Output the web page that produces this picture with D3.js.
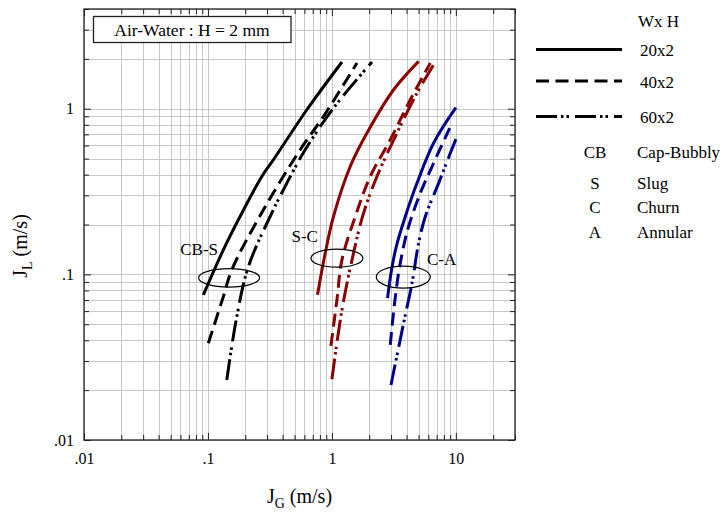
<!DOCTYPE html>
<html>
<head>
<meta charset="utf-8">
<script src="https://cdn.jsdelivr.net/npm/d3@7"></script>
<style>
  html, body { margin: 0; padding: 0; background: #fff; }
  svg, svg text, svg tspan { font-family: "Liberation Serif", "DejaVu Serif", "Times New Roman", serif; fill: #000; }
</style>
</head>
<body>
<svg id="chart" width="725" height="514"></svg>
<script>
// Flow-regime transition boundaries in J_G / J_L space for three channel sizes (W x H, mm)
const channelSizes = ["20x2", "40x2", "60x2"];
const transitionNames = ["CB-S", "S-C", "C-A"];
const regimeCodes = ["CB", "S", "C", "A"];
const regimeNames = ["Cap-Bubbly", "Slug", "Churn", "Annular"];

const xMajorTicks = [0.01, 0.1, 1, 10];
const xTickLabels = [".01", ".1", "1", "10"];
const yMajorTicks = [0.01, 0.1, 1];
const yTickLabels = [".01", ".1", "1"];

// Cap-bubbly -> slug boundary, [J_G, J_L]
const cbS_20x2 = [[0.0918, 0.0752], [0.1331, 0.1406], [0.1816, 0.2235], [0.272, 0.390], [0.3375, 0.492], [0.628, 0.986], [1.205, 1.915]];
const cbS_40x2 = [[0.1007, 0.0384], [0.1331, 0.0734], [0.1557, 0.1065], [0.2803, 0.2453], [0.5546, 0.565], [0.855, 0.898], [1.592, 1.888]];
const cbS_60x2 = [[0.1418, 0.02305], [0.1709, 0.0556], [0.212, 0.1114], [0.3174, 0.2235], [0.433, 0.3557], [0.6087, 0.565], [1.030, 1.01], [2.104, 1.915]];

// Slug -> churn boundary
const sC_20x2 = [[0.765, 0.0752], [0.883, 0.1343], [1.030, 0.2235], [1.405, 0.448], [1.918, 0.713], [3.145, 1.302], [5.006, 1.931]];
const sC_40x2 = [[0.9815, 0.037], [1.098, 0.0701], [1.205, 0.1224], [1.543, 0.2235], [2.039, 0.390], [2.958, 0.650], [4.29, 1.133], [6.223, 1.888]];
const sC_60x2 = [[1.0, 0.02327], [1.205, 0.061], [1.494, 0.1343], [1.80, 0.2343], [2.309, 0.390], [3.35, 0.713], [4.86, 1.244], [6.83, 1.915]];

// Churn -> annular boundary
const cA_20x2 = [[2.812, 0.0718], [2.996, 0.1017], [3.307, 0.1472], [3.91, 0.2235], [4.86, 0.3557], [6.617, 0.6205], [10.0, 1.014]];
const cA_40x2 = [[2.958, 0.0375], [3.157, 0.061], [3.451, 0.1017], [3.787, 0.1472], [4.157, 0.1944], [5.167, 0.3094], [6.617, 0.4697], [8.912, 0.7627]];
const cA_60x2 = [[2.996, 0.0215], [3.787, 0.0507], [4.429, 0.0885], [5.006, 0.1543], [5.671, 0.2235], [7.262, 0.3557], [9.028, 0.540], [10.22, 0.682]];

// Centres of the ellipses marking each transition band, [J_G, J_L]
const transitionMarks = [[0.148, 0.0953], [1.098, 0.1253], [3.766, 0.0963]];

const boundaries = [
  { transition: "CB-S", size: "20x2", points: cbS_20x2 },
  { transition: "CB-S", size: "40x2", points: cbS_40x2 },
  { transition: "CB-S", size: "60x2", points: cbS_60x2 },
  { transition: "S-C", size: "20x2", points: sC_20x2 },
  { transition: "S-C", size: "40x2", points: sC_40x2 },
  { transition: "S-C", size: "60x2", points: sC_60x2 },
  { transition: "C-A", size: "20x2", points: cA_20x2 },
  { transition: "C-A", size: "40x2", points: cA_40x2 },
  { transition: "C-A", size: "60x2", points: cA_60x2 }
];

// ---- styling ----
const serif = '"Liberation Serif", "DejaVu Serif", "Times New Roman", serif';
const colorOf = { "CB-S": "#000000", "S-C": "#8b0000", "C-A": "#00008b" };
const dashOf = { "20x2": null, "40x2": "13,6.5", "60x2": "21,4,2.5,3,2.5,6" };
const labelLayout = {
  "CB-S": { dx: -11, dy: -23, anchor: "end" },
  "S-C": { dx: -19, dy: -16.6, anchor: "end" },
  "C-A": { dx: 23.7, dy: -12.2, anchor: "start" }
};
const ellipseSize = { "CB-S": [30.5, 9.2], "S-C": [26, 9], "C-A": [27, 11] };

const plot = { left: 84, right: 515, top: 9, bottom: 440 };
const svg = d3.select("#chart").style("font-family", serif);

const x = d3.scaleLog().domain([0.01, 30]).range([plot.left, plot.right]);
const y = d3.scaleLog().domain([0.01, 4]).range([plot.bottom, plot.top]);

const xAll = x.ticks();
const yAll = y.ticks();
const xMinor = xAll.filter(v => !xMajorTicks.some(m => Math.abs(m - v) / m < 1e-6));
const yMinor = yAll.filter(v => !yMajorTicks.some(m => Math.abs(m - v) / m < 1e-6));

// grid
const grid = svg.append("g").attr("stroke", "#c9c9c9").attr("stroke-width", 1);
grid.selectAll("line.gx").data(xAll).join("line")
  .attr("x1", d => Math.round(x(d)) + 0.5).attr("x2", d => Math.round(x(d)) + 0.5)
  .attr("y1", plot.top).attr("y2", plot.bottom);
grid.selectAll("line.gy").data(yAll).join("line")
  .attr("y1", d => Math.round(y(d)) + 0.5).attr("y2", d => Math.round(y(d)) + 0.5)
  .attr("x1", plot.left).attr("x2", plot.right);

// inward ticks on all four sides
function tickAxis(axisFn, scale, values, size, transform) {
  const g = svg.append("g").attr("transform", transform)
    .call(axisFn(scale).tickValues(values).tickSize(size).tickFormat(""));
  g.select(".domain").remove();
  g.selectAll(".tick line").attr("stroke", "#222").attr("stroke-width", 1);
  return g;
}
tickAxis(d3.axisBottom, x, xMajorTicks, -7, `translate(0,${plot.bottom})`);
tickAxis(d3.axisBottom, x, xMinor, -5, `translate(0,${plot.bottom})`);
tickAxis(d3.axisTop, x, xMajorTicks, -7, `translate(0,${plot.top})`);
tickAxis(d3.axisTop, x, xMinor, -5, `translate(0,${plot.top})`);
tickAxis(d3.axisLeft, y, yMajorTicks, -7, `translate(${plot.left},0)`);
tickAxis(d3.axisLeft, y, yMinor, -5, `translate(${plot.left},0)`);
tickAxis(d3.axisRight, y, yMajorTicks, -7, `translate(${plot.right},0)`);
tickAxis(d3.axisRight, y, yMinor, -5, `translate(${plot.right},0)`);

// tick labels
const xLab = svg.append("g").attr("transform", `translate(0,${plot.bottom})`)
  .call(d3.axisBottom(x).tickValues(xMajorTicks).tickSize(0).tickPadding(13)
    .tickFormat((d, i) => xTickLabels[i]));
xLab.attr("font-family", serif).attr("font-size", 16);
xLab.select(".domain").remove();
xLab.selectAll("text").style("font-family", serif).attr("font-size", 16).attr("fill", "#000");

const yLab = svg.append("g").attr("transform", `translate(${plot.left},0)`)
  .call(d3.axisLeft(y).tickValues(yMajorTicks).tickSize(0).tickPadding(10)
    .tickFormat((d, i) => yTickLabels[i]));
yLab.attr("font-family", serif).attr("font-size", 16);
yLab.select(".domain").remove();
yLab.selectAll("text").style("font-family", serif).attr("font-size", 16).attr("fill", "#000");

// frame
svg.append("rect")
  .attr("x", plot.left).attr("y", plot.top)
  .attr("width", plot.right - plot.left).attr("height", plot.bottom - plot.top)
  .attr("fill", "none").attr("stroke", "#222").attr("stroke-width", 1.3);

// boundary curves
const line = d3.line().x(d => x(d[0])).y(d => y(d[1])).curve(d3.curveCatmullRom.alpha(0.5));
svg.append("g").selectAll("path").data(boundaries).join("path")
  .attr("d", d => line(d.points))
  .attr("fill", "none")
  .attr("stroke", d => colorOf[d.transition])
  .attr("stroke-width", 3)
  .attr("stroke-dasharray", d => dashOf[d.size]);

// transition ellipses and labels
const marks = svg.append("g");
transitionNames.forEach((name, i) => {
  const [jg, jl] = transitionMarks[i];
  const cx = x(jg), cy = y(jl);
  const [rx, ry] = ellipseSize[name];
  marks.append("ellipse")
    .attr("cx", cx).attr("cy", cy).attr("rx", rx).attr("ry", ry)
    .attr("fill", "none").attr("stroke", "#000").attr("stroke-width", 1.2);
  const lay = labelLayout[name];
  marks.append("text")
    .attr("x", cx + lay.dx).attr("y", cy + lay.dy)
    .attr("text-anchor", lay.anchor).attr("font-size", 17)
    .text(name);
});

// fluid / gap label box
const box = svg.append("g");
box.append("rect").attr("x", 93.5).attr("y", 16.5).attr("width", 197.5).attr("height", 26)
  .attr("fill", "#fff").attr("stroke", "#222").attr("stroke-width", 1.3);
box.append("text").attr("x", 192).attr("y", 35.5).attr("text-anchor", "middle")
  .attr("font-size", 17.5).text("Air-Water : H = 2 mm");

// axis titles
const xTitle = svg.append("text").attr("x", (plot.left + plot.right) / 2).attr("y", 503)
  .attr("text-anchor", "middle").attr("font-size", 20).style("font-family", serif);
xTitle.append("tspan").text("J");
xTitle.append("tspan").attr("font-size", 14).attr("dy", 5).text("G");
xTitle.append("tspan").attr("dy", -5).text(" (m/s)");

const yTitle = svg.append("text").attr("transform", "translate(27,246) rotate(-90)")
  .attr("text-anchor", "middle").attr("font-size", 20).style("font-family", serif);
yTitle.append("tspan").text("J");
yTitle.append("tspan").attr("font-size", 14).attr("dy", 5).text("L");
yTitle.append("tspan").attr("dy", -5).text(" (m/s)");

// legend
const legend = svg.append("g");
legend.append("text").attr("x", 638).attr("y", 26.5).attr("font-size", 17).text("Wx H");
const legendRows = [49.5, 81, 116.5];
channelSizes.forEach((s, i) => {
  legend.append("line")
    .attr("x1", 536).attr("x2", 622).attr("y1", legendRows[i]).attr("y2", legendRows[i])
    .attr("stroke", "#000").attr("stroke-width", 3)
    .attr("stroke-dasharray", dashOf[s]);
  legend.append("text").attr("x", 640).attr("y", legendRows[i] + 6.5)
    .attr("font-size", 17).text(s);
});
const regimeRows = [158, 188.5, 212.5, 238];
regimeCodes.forEach((c, i) => {
  legend.append("text").attr("x", 595).attr("y", regimeRows[i]).attr("text-anchor", "middle")
    .attr("font-size", 17).text(c);
  legend.append("text").attr("x", 637).attr("y", regimeRows[i])
    .attr("font-size", 17).text(regimeNames[i]);
});
</script>
</body>
</html>
